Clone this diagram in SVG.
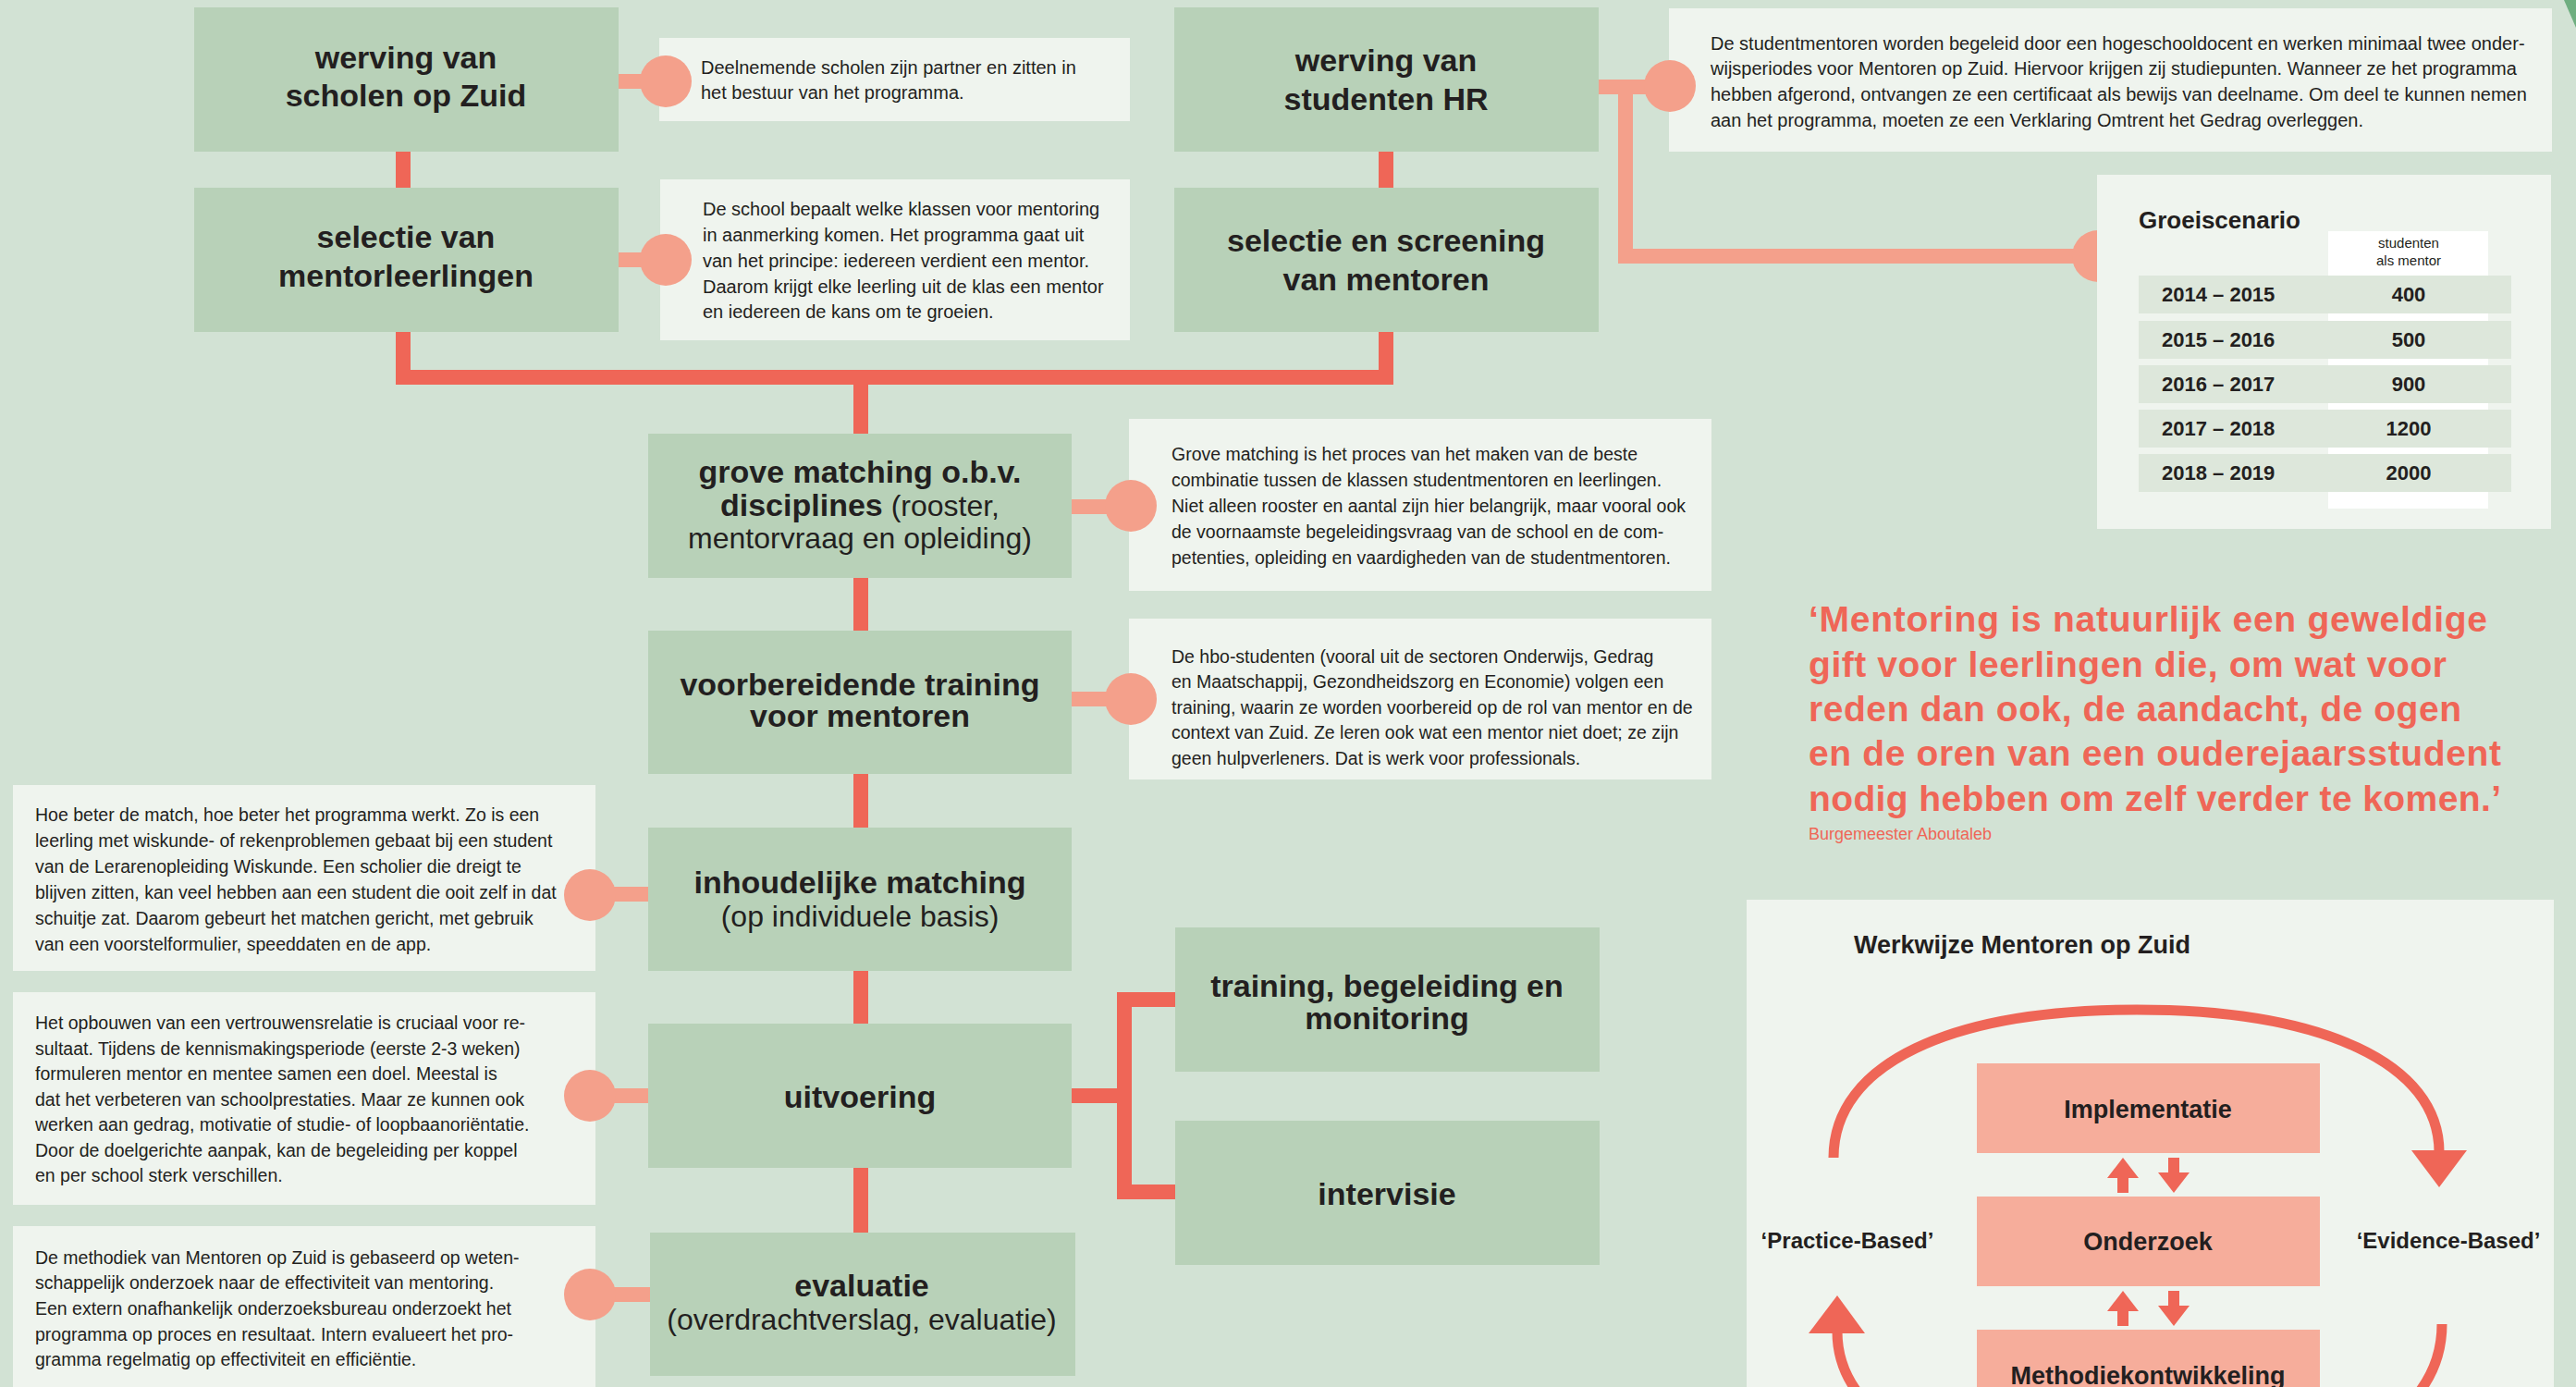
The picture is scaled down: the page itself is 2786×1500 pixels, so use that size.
<svg xmlns="http://www.w3.org/2000/svg" width="2786" height="1500" viewBox="0 0 2786 1500">
<defs>
<style>
.bg{fill:#d2e2d4}
.node{fill:#b8d1b8}
.info{fill:#eff4ee}
.t{font-family:"Liberation Sans",Arial,Helvetica,sans-serif;fill:#231f20}
.nt{font-size:34px;font-weight:bold;text-anchor:middle}
.nr{font-weight:normal;font-size:32px}
.it{font-size:20px}
.is{font-size:19.5px}
.red{stroke:#ef6657;stroke-width:16;fill:none}
.sal{stroke:#f4a08b;stroke-width:16;fill:none}
.dot{fill:#f4a08b}
.row{fill:#dde7db}
.yr{font-size:22px;font-weight:bold}
.wk{fill:#f6ad9b}
.arc{stroke:#ef6657;stroke-width:11;fill:none}
.arr{fill:#ef6657}
.q{font-family:"Liberation Sans",Arial,Helvetica,sans-serif;fill:#ef6657;font-weight:bold;font-size:39px}
</style>
</defs>
<rect class="bg" x="0" y="0" width="2786" height="1500"/>
<polygon points="2773,0 2786,0 2786,30" fill="#6fae80"/>

<!-- info boxes -->
<g id="info-werving-scholen">
<rect class="info" x="713" y="41" width="509" height="90"/>
<text class="t it"><tspan x="758" y="80">Deelnemende scholen zijn partner en zitten in</tspan><tspan x="758" y="107">het bestuur van het programma.</tspan></text>
</g>
<g id="info-selectie-leerlingen">
<rect class="info" x="714" y="194" width="508" height="174"/>
<text class="t it"><tspan x="760" y="233">De school bepaalt welke klassen voor mentoring</tspan><tspan x="760" y="261">in aanmerking komen. Het programma gaat uit</tspan><tspan x="760" y="289">van het principe: iedereen verdient een mentor.</tspan><tspan x="760" y="317">Daarom krijgt elke leerling uit de klas een mentor</tspan><tspan x="760" y="344">en iedereen de kans om te groeien.</tspan></text>
</g>
<g id="info-werving-studenten">
<rect class="info" x="1805" y="9" width="955" height="155"/>
<text class="t it"><tspan x="1850" y="54">De studentmentoren worden begeleid door een hogeschooldocent en werken minimaal twee onder-</tspan><tspan x="1850" y="81">wijsperiodes voor Mentoren op Zuid. Hiervoor krijgen zij studiepunten. Wanneer ze het programma</tspan><tspan x="1850" y="109">hebben afgerond, ontvangen ze een certificaat als bewijs van deelname. Om deel te kunnen nemen</tspan><tspan x="1850" y="137">aan het programma, moeten ze een Verklaring Omtrent het Gedrag overleggen.</tspan></text>
</g>
<g id="info-grove">
<rect class="info" x="1221" y="453" width="630" height="186"/>
<text class="t is"><tspan x="1267" y="498">Grove matching is het proces van het maken van de beste</tspan><tspan x="1267" y="526">combinatie tussen de klassen studentmentoren en leerlingen.</tspan><tspan x="1267" y="554">Niet alleen rooster en aantal zijn hier belangrijk, maar vooral ook</tspan><tspan x="1267" y="582">de voornaamste begeleidingsvraag van de school en de com-</tspan><tspan x="1267" y="610">petenties, opleiding en vaardigheden van de studentmentoren.</tspan></text>
</g>
<g id="info-voorbereidende">
<rect class="info" x="1221" y="669" width="630" height="174"/>
<text class="t is"><tspan x="1267" y="717">De hbo-studenten (vooral uit de sectoren Onderwijs, Gedrag</tspan><tspan x="1267" y="744">en Maatschappij, Gezondheidszorg en Economie) volgen een</tspan><tspan x="1267" y="772">training, waarin ze worden voorbereid op de rol van mentor en de</tspan><tspan x="1267" y="799">context van Zuid. Ze leren ook wat een mentor niet doet; ze zijn</tspan><tspan x="1267" y="827">geen hulpverleners. Dat is werk voor professionals.</tspan></text>
</g>
<g id="info-inhoudelijke">
<rect class="info" x="14" y="849" width="630" height="201"/>
<text class="t is"><tspan x="38" y="888">Hoe beter de match, hoe beter het programma werkt. Zo is een</tspan><tspan x="38" y="916">leerling met wiskunde- of rekenproblemen gebaat bij een student</tspan><tspan x="38" y="944">van de Lerarenopleiding Wiskunde. Een scholier die dreigt te</tspan><tspan x="38" y="972">blijven zitten, kan veel hebben aan een student die ooit zelf in dat</tspan><tspan x="38" y="1000">schuitje zat. Daarom gebeurt het matchen gericht, met gebruik</tspan><tspan x="38" y="1028">van een voorstelformulier, speeddaten en de app.</tspan></text>
</g>
<g id="info-uitvoering">
<rect class="info" x="14" y="1073" width="630" height="230"/>
<text class="t is"><tspan x="38" y="1113">Het opbouwen van een vertrouwensrelatie is cruciaal voor re-</tspan><tspan x="38" y="1141">sultaat. Tijdens de kennismakingsperiode (eerste 2-3 weken)</tspan><tspan x="38" y="1168">formuleren mentor en mentee samen een doel. Meestal is</tspan><tspan x="38" y="1196">dat het verbeteren van schoolprestaties. Maar ze kunnen ook</tspan><tspan x="38" y="1223">werken aan gedrag, motivatie of studie- of loopbaanoriëntatie.</tspan><tspan x="38" y="1251">Door de doelgerichte aanpak, kan de begeleiding per koppel</tspan><tspan x="38" y="1278">en per school sterk verschillen.</tspan></text>
</g>
<g id="info-evaluatie">
<rect class="info" x="14" y="1326" width="630" height="190"/>
<text class="t is"><tspan x="38" y="1367">De methodiek van Mentoren op Zuid is gebaseerd op weten-</tspan><tspan x="38" y="1394">schappelijk onderzoek naar de effectiviteit van mentoring.</tspan><tspan x="38" y="1422">Een extern onafhankelijk onderzoeksbureau onderzoekt het</tspan><tspan x="38" y="1450">programma op proces en resultaat. Intern evalueert het pro-</tspan><tspan x="38" y="1477">gramma regelmatig op effectiviteit en efficiëntie.</tspan></text>
</g>

<!-- connectors -->
<g id="connectors">
<path class="red" d="M436 164 V203"/>
<path class="red" d="M1499 164 V203"/>
<path class="red" d="M436 359 V408 H1499 V359"/>
<path class="red" d="M931 408 V469"/>
<path class="red" d="M931 625 V682"/>
<path class="red" d="M931 837 V895"/>
<path class="red" d="M931 1050 V1107"/>
<path class="red" d="M931 1263 V1333"/>
<path class="red" d="M1159 1185 H1216"/>
<path class="red" d="M1271 1081 H1216 V1289 H1271"/>
<path class="sal" d="M669 88 H720"/>
<path class="sal" d="M669 281 H720"/>
<path class="sal" d="M1159 548 H1223"/>
<path class="sal" d="M1159 756 H1223"/>
<path class="sal" d="M701 967 H638"/>
<path class="sal" d="M701 1185 H638"/>
<path class="sal" d="M703 1400 H638"/>
<path class="sal" d="M1729 94 H1806"/>
<path class="sal" d="M1758 94 V277 H2269"/>
<circle class="dot" cx="720" cy="88" r="28"/>
<circle class="dot" cx="720" cy="281" r="28"/>
<circle class="dot" cx="1223" cy="547" r="28"/>
<circle class="dot" cx="1223" cy="756" r="28"/>
<circle class="dot" cx="638" cy="968" r="28"/>
<circle class="dot" cx="638" cy="1185" r="28"/>
<circle class="dot" cx="638" cy="1400" r="28"/>
<circle class="dot" cx="1806" cy="93" r="28"/>
<circle class="dot" cx="2269" cy="277" r="28"/>
</g>

<!-- nodes -->
<g id="node-werving-scholen">
<rect class="node" x="210" y="8" width="459" height="156"/>
<text class="t nt"><tspan x="439" y="74">werving van</tspan><tspan x="439" y="115">scholen op Zuid</tspan></text>
</g>
<g id="node-selectie-leerlingen">
<rect class="node" x="210" y="203" width="459" height="156"/>
<text class="t nt"><tspan x="439" y="268">selectie van</tspan><tspan x="439" y="310">mentorleerlingen</tspan></text>
</g>
<g id="node-werving-studenten">
<rect class="node" x="1270" y="8" width="459" height="156"/>
<text class="t nt"><tspan x="1499" y="77">werving van</tspan><tspan x="1499" y="119">studenten HR</tspan></text>
</g>
<g id="node-selectie-screening">
<rect class="node" x="1270" y="203" width="459" height="156"/>
<text class="t nt"><tspan x="1499" y="272">selectie en screening</tspan><tspan x="1499" y="314">van mentoren</tspan></text>
</g>
<g id="node-grove">
<rect class="node" x="701" y="469" width="458" height="156"/>
<text class="t nt"><tspan x="930" y="522">grove matching o.b.v.</tspan><tspan x="930" y="558">disciplines<tspan class="nr"> (rooster,</tspan></tspan><tspan class="nr" x="930" y="593">mentorvraag en opleiding)</tspan></text>
</g>
<g id="node-voorbereidende">
<rect class="node" x="701" y="682" width="458" height="155"/>
<text class="t nt"><tspan x="930" y="752">voorbereidende training</tspan><tspan x="930" y="786">voor mentoren</tspan></text>
</g>
<g id="node-inhoudelijke">
<rect class="node" x="701" y="895" width="458" height="155"/>
<text class="t nt"><tspan x="930" y="966">inhoudelijke matching</tspan><tspan class="nr" x="930" y="1002">(op individuele basis)</tspan></text>
</g>
<g id="node-uitvoering">
<rect class="node" x="701" y="1107" width="458" height="156"/>
<text class="t nt" x="930" y="1198">uitvoering</text>
</g>
<g id="node-evaluatie">
<rect class="node" x="703" y="1333" width="460" height="155"/>
<text class="t nt"><tspan x="932" y="1402">evaluatie</tspan><tspan class="nr" x="932" y="1438">(overdrachtverslag, evaluatie)</tspan></text>
</g>
<g id="node-training">
<rect class="node" x="1271" y="1003" width="459" height="156"/>
<text class="t nt"><tspan x="1500" y="1078">training, begeleiding en</tspan><tspan x="1500" y="1113">monitoring</tspan></text>
</g>
<g id="node-intervisie">
<rect class="node" x="1271" y="1212" width="459" height="156"/>
<text class="t nt" x="1500" y="1303">intervisie</text>
</g>

<!-- Groeiscenario -->
<g id="groeiscenario">
<rect class="info" x="2268" y="189" width="491" height="383"/>
<rect x="2518" y="250" width="173" height="300" fill="#ffffff"/>
<text class="t" x="2313" y="247" font-size="26" font-weight="bold">Groeiscenario</text>
<text class="t" font-size="15" text-anchor="middle"><tspan x="2605" y="268">studenten</tspan><tspan x="2605" y="287">als mentor</tspan></text>
<rect class="row" x="2313" y="298" width="403" height="41"/>
<rect class="row" x="2313" y="347" width="403" height="41"/>
<rect class="row" x="2313" y="395" width="403" height="41"/>
<rect class="row" x="2313" y="443" width="403" height="41"/>
<rect class="row" x="2313" y="491" width="403" height="41"/>
<text class="t yr" x="2338" y="326">2014 – 2015</text>
<text class="t yr" x="2338" y="375">2015 – 2016</text>
<text class="t yr" x="2338" y="423">2016 – 2017</text>
<text class="t yr" x="2338" y="471">2017 – 2018</text>
<text class="t yr" x="2338" y="519">2018 – 2019</text>
<text class="t yr" x="2605" y="326" text-anchor="middle">400</text>
<text class="t yr" x="2605" y="375" text-anchor="middle">500</text>
<text class="t yr" x="2605" y="423" text-anchor="middle">900</text>
<text class="t yr" x="2605" y="471" text-anchor="middle">1200</text>
<text class="t yr" x="2605" y="519" text-anchor="middle">2000</text>
</g>

<!-- quote -->
<g id="quote">
<text class="q" x="1956" y="683" textLength="734">‘Mentoring is natuurlijk een geweldige</text>
<text class="q" x="1956" y="732" textLength="690">gift voor leerlingen die, om wat voor</text>
<text class="q" x="1956" y="780" textLength="706">reden dan ook, de aandacht, de ogen</text>
<text class="q" x="1956" y="828" textLength="749">en de oren van een ouderejaarsstudent</text>
<text class="q" x="1956" y="877" textLength="749">nodig hebben om zelf verder te komen.’</text>
<text x="1956" y="908" font-family="Liberation Sans, Arial, sans-serif" font-size="18" fill="#ef6657">Burgemeester Aboutaleb</text>
</g>

<!-- Werkwijze -->
<g id="werkwijze">
<rect class="info" x="1889" y="973" width="873" height="560"/>
<text class="t" x="2005" y="1031" font-size="27" font-weight="bold">Werkwijze Mentoren op Zuid</text>
<path class="arc" d="M1983 1252 C1983 1150 2110 1092 2311 1092 C2512 1092 2638 1150 2638 1246"/>
<polygon class="arr" points="2608,1244 2668,1244 2638,1284"/>
<path class="arc" d="M2641 1432 C2641 1540 2512 1600 2313 1600 C2114 1600 1987 1540 1987 1440"/>
<polygon class="arr" points="1956,1442 2017,1442 1987,1401"/>
<g id="node-implementatie">
<rect class="wk" x="2138" y="1150" width="371" height="97"/>
<text class="t" x="2323" y="1209" font-size="27" font-weight="bold" text-anchor="middle">Implementatie</text>
</g>
<g id="node-onderzoek">
<rect class="wk" x="2138" y="1294" width="371" height="97"/>
<text class="t" x="2323" y="1352" font-size="27" font-weight="bold" text-anchor="middle">Onderzoek</text>
</g>
<g id="node-methodiek">
<rect class="wk" x="2138" y="1438" width="371" height="97"/>
<text class="t" x="2323" y="1497" font-size="27" font-weight="bold" text-anchor="middle">Methodiekontwikkeling</text>
</g>
<polygon class="arr" points="2296,1252 2313,1274 2302,1274 2302,1290 2290,1290 2290,1274 2279,1274"/>
<polygon class="arr" points="2345,1252 2357,1252 2357,1268 2368,1268 2351,1290 2334,1268 2345,1268"/>
<polygon class="arr" points="2296,1396 2313,1418 2302,1418 2302,1434 2290,1434 2290,1418 2279,1418"/>
<polygon class="arr" points="2345,1396 2357,1396 2357,1412 2368,1412 2351,1434 2334,1412 2345,1412"/>
<text class="t" x="1998" y="1350" font-size="24" font-weight="bold" text-anchor="middle">‘Practice-Based’</text>
<text class="t" x="2648" y="1350" font-size="24" font-weight="bold" text-anchor="middle">‘Evidence-Based’</text>
</g>
</svg>
